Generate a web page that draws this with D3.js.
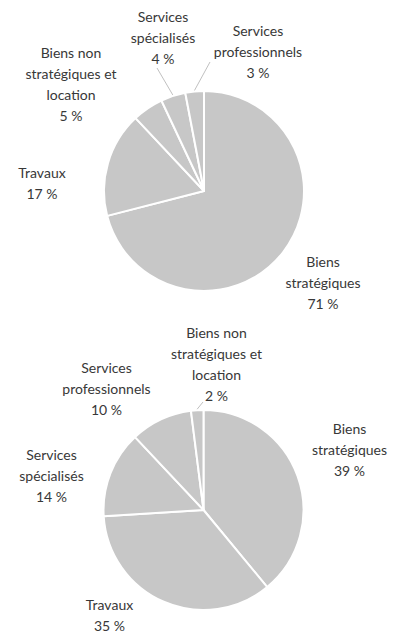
<!DOCTYPE html>
<html><head><meta charset="utf-8">
<script src="https://cdn.jsdelivr.net/npm/d3@7"></script>
<style>html,body{margin:0;padding:0;background:#fff;}svg{display:block;}</style>
</head><body>
<svg id="chart" width="397" height="637"></svg>
<script>
// ---- data ----
const categoriesTop = ["Biens stratégiques", "Travaux", "Biens non stratégiques et location", "Services spécialisés", "Services professionnels"];
const valuesTop = [71, 17, 5, 4, 3];
const categoriesBottom = ["Biens stratégiques", "Travaux", "Services spécialisés", "Services professionnels", "Biens non stratégiques et location"];
const valuesBottom = [39, 35, 14, 10, 2];
const labelLines = {
  "Biens stratégiques": ["Biens", "stratégiques"],
  "Travaux": ["Travaux"],
  "Biens non stratégiques et location": ["Biens non", "stratégiques et", "location"],
  "Services spécialisés": ["Services", "spécialisés"],
  "Services professionnels": ["Services", "professionnels"]
};

// ---- layout (label placement relative to pie centre) ----
const layoutTop = {
  cx: 204, cy: 191, r: 100,
  labels: {
    "Biens stratégiques": {x: 119, y: 71},
    "Travaux": {x: -162, y: -18},
    "Biens non stratégiques et location": {x: -133, y: -138},
    "Services spécialisés": {x: -41, y: -174, leader: [-47, -123]},
    "Services professionnels": {x: 54, y: -160, leader: [6, -129]}
  }
};
const layoutBottom = {
  cx: 203.5, cy: 510, r: 100,
  labels: {
    "Biens stratégiques": {x: 146, y: -81},
    "Travaux": {x: -94, y: 95},
    "Services spécialisés": {x: -152, y: -55},
    "Services professionnels": {x: -97, y: -142},
    "Biens non stratégiques et location": {x: 13, y: -177, leader: [-0.5, -108]}
  }
};

const svg = d3.select("#chart");
const fontFamily = "Lato, 'Open Sans', sans-serif";
const lineH = 21;

function drawPie(categories, values, layout) {
  const g = svg.append("g").attr("transform", `translate(${layout.cx},${layout.cy})`);
  const data = categories.map((c, i) => ({cat: c, value: values[i]}));
  const pie = d3.pie().value(d => d.value).sort(null);
  const arc = d3.arc().innerRadius(0).outerRadius(layout.r);
  const arcs = pie(data);
  g.selectAll("path.slice").data(arcs).enter().append("path")
    .attr("class", "slice")
    .attr("d", arc)
    .attr("fill", "#c7c7c7")
    .attr("stroke", "#ffffff")
    .attr("stroke-width", 2)
    .attr("stroke-linejoin", "round");

  arcs.forEach(a => {
    const L = layout.labels[a.data.cat];
    if (L.leader) {
      const mid = (a.startAngle + a.endAngle) / 2;
      const x0 = Math.sin(mid) * (layout.r + 1);
      const y0 = -Math.cos(mid) * (layout.r + 1);
      g.append("line")
        .attr("x1", x0).attr("y1", y0)
        .attr("x2", L.leader[0]).attr("y2", L.leader[1])
        .attr("stroke", "#b0b0b0").attr("stroke-width", 0.8);
    }
    const lines = labelLines[a.data.cat].concat([a.data.value + " %"]);
    const t = g.append("text")
      .attr("text-anchor", "middle")
      .attr("font-family", fontFamily)
      .attr("font-size", 14)
      .attr("fill", "#383838");
    lines.forEach((ln, i) => {
      t.append("tspan").attr("x", L.x).attr("y", L.y + i * lineH + 5).text(ln);
    });
  });
}

drawPie(categoriesTop, valuesTop, layoutTop);
drawPie(categoriesBottom, valuesBottom, layoutBottom);
</script>
</body></html>
